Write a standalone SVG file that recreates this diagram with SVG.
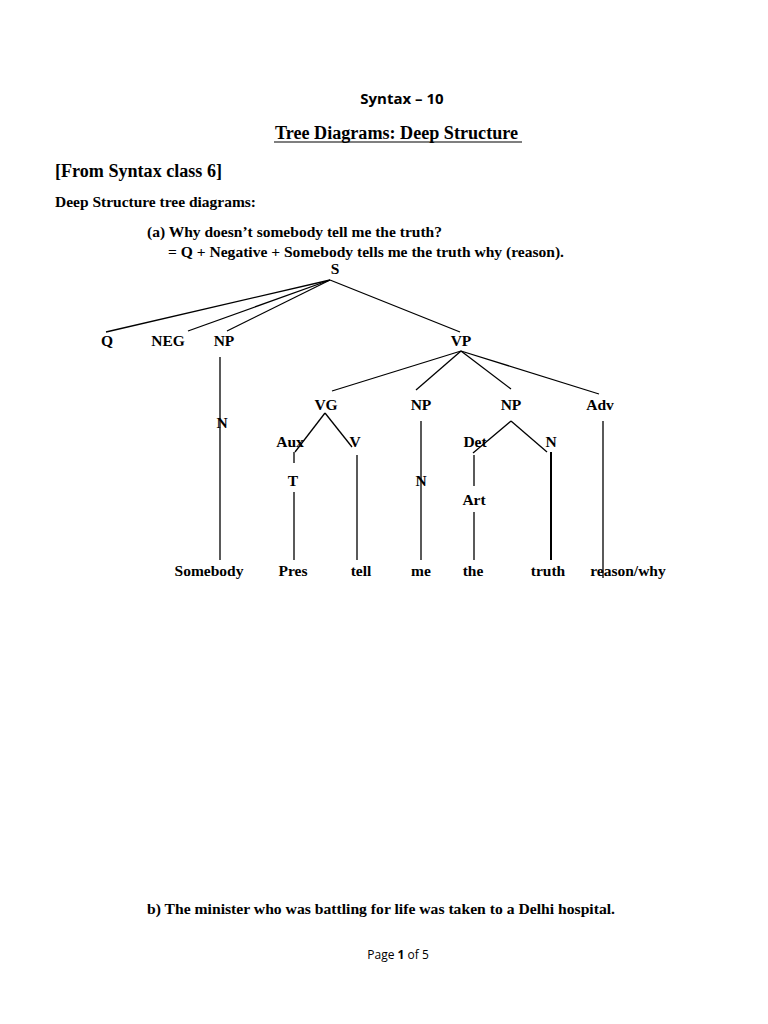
<svg xmlns="http://www.w3.org/2000/svg" width="768" height="1024" viewBox="0 0 768 1024">
<style>
.t{font-family:"Liberation Serif","Times New Roman",serif;font-weight:bold;font-size:15.5px;fill:#000}
.h{font-family:"Open Sans","Noto Sans",sans-serif;font-weight:bold;font-size:15px;fill:#000}
.c{text-anchor:middle}
.e line{stroke:#000;stroke-width:1.3}
</style>
<rect width="768" height="1024" fill="#fff"/>
<text class="h c" x="402" y="104">Syntax – 10</text>
<text class="t" x="275" y="139" style="font-size:18px" textLength="243" lengthAdjust="spacingAndGlyphs">Tree Diagrams: Deep Structure</text>
<line x1="274" y1="142" x2="522" y2="142" stroke="#000" stroke-width="1.2"/>
<text class="t" x="55" y="177" style="font-size:18px" textLength="167" lengthAdjust="spacingAndGlyphs">[From Syntax class 6]</text>
<text class="t" x="55" y="207" textLength="201" lengthAdjust="spacingAndGlyphs">Deep Structure tree diagrams:</text>
<text class="t" x="147" y="237" textLength="295" lengthAdjust="spacingAndGlyphs">(a) Why doesn’t somebody tell me the truth?</text>
<text class="t" x="168" y="257" textLength="396" lengthAdjust="spacingAndGlyphs">= Q + Negative + Somebody tells me the truth why (reason).</text>

<g class="e" id="connectors">
<line x1="330" y1="280" x2="106" y2="332"/>
<line x1="330" y1="280" x2="188" y2="331"/>
<line x1="330" y1="280" x2="227" y2="331"/>
<line x1="330" y1="280" x2="460" y2="332"/>
<line x1="461" y1="351" x2="332" y2="391"/>
<line x1="461" y1="351" x2="416" y2="390"/>
<line x1="461" y1="351" x2="511" y2="389"/>
<line x1="461" y1="351" x2="599" y2="394"/>
<line x1="220" y1="357" x2="220" y2="560"/>
<line x1="325" y1="413" x2="295" y2="452"/>
<line x1="325" y1="413" x2="352" y2="447"/>
<line x1="294" y1="452" x2="294" y2="463"/>
<line x1="294" y1="492" x2="294" y2="560"/>
<line x1="357" y1="455" x2="357" y2="560"/>
<line x1="421" y1="421" x2="421" y2="560"/>
<line x1="511" y1="421" x2="473" y2="453"/>
<line x1="511" y1="421" x2="547" y2="452"/>
<line x1="474" y1="455" x2="474" y2="486"/>
<line x1="474" y1="512" x2="474" y2="560"/>
<line x1="551" y1="452" x2="551" y2="560" style="stroke-width:2"/>
<line x1="603" y1="421" x2="603" y2="578"/>
</g>

<g id="n-S"><text class="t c" x="335" y="274">S</text></g>
<g id="n-Q"><text class="t c" x="107" y="346">Q</text></g>
<g id="n-NEG"><text class="t c" x="168" y="346">NEG</text></g>
<g id="n-NP1"><text class="t c" x="224" y="346">NP</text></g>
<g id="n-VP"><text class="t c" x="461" y="346">VP</text></g>
<g id="n-VG"><text class="t c" x="326" y="410">VG</text></g>
<g id="n-NP2"><text class="t c" x="421" y="410">NP</text></g>
<g id="n-NP3"><text class="t c" x="511" y="410">NP</text></g>
<g id="n-Adv"><text class="t c" x="600" y="410">Adv</text></g>
<g id="n-N1"><text class="t c" x="222" y="428">N</text></g>
<g id="n-Aux"><text class="t c" x="290" y="447">Aux</text></g>
<g id="n-V"><text class="t c" x="355" y="447">V</text></g>
<g id="n-Det"><text class="t c" x="475" y="447">Det</text></g>
<g id="n-N3"><text class="t c" x="551" y="447">N</text></g>
<g id="n-T"><text class="t c" x="293" y="486">T</text></g>
<g id="n-N2"><text class="t c" x="421" y="486">N</text></g>
<g id="n-Art"><text class="t c" x="474" y="505">Art</text></g>
<g id="n-Somebody"><text class="t c" x="209" y="576">Somebody</text></g>
<g id="n-Pres"><text class="t c" x="293" y="576">Pres</text></g>
<g id="n-tell"><text class="t c" x="361" y="576">tell</text></g>
<g id="n-me"><text class="t c" x="421" y="576">me</text></g>
<g id="n-the"><text class="t c" x="473" y="576">the</text></g>
<g id="n-truth"><text class="t c" x="548" y="576">truth</text></g>
<g id="n-reason"><text class="t c" x="628" y="576">reason/why</text></g>

<text class="t" x="147" y="914" textLength="468" lengthAdjust="spacingAndGlyphs">b)  The minister who was battling for life was taken to a Delhi hospital.</text>
<text class="c" x="398" y="959" style="font-family:'Open Sans','Noto Sans',sans-serif;font-size:12px">Page <tspan font-weight="bold">1</tspan> of 5</text>
</svg>
